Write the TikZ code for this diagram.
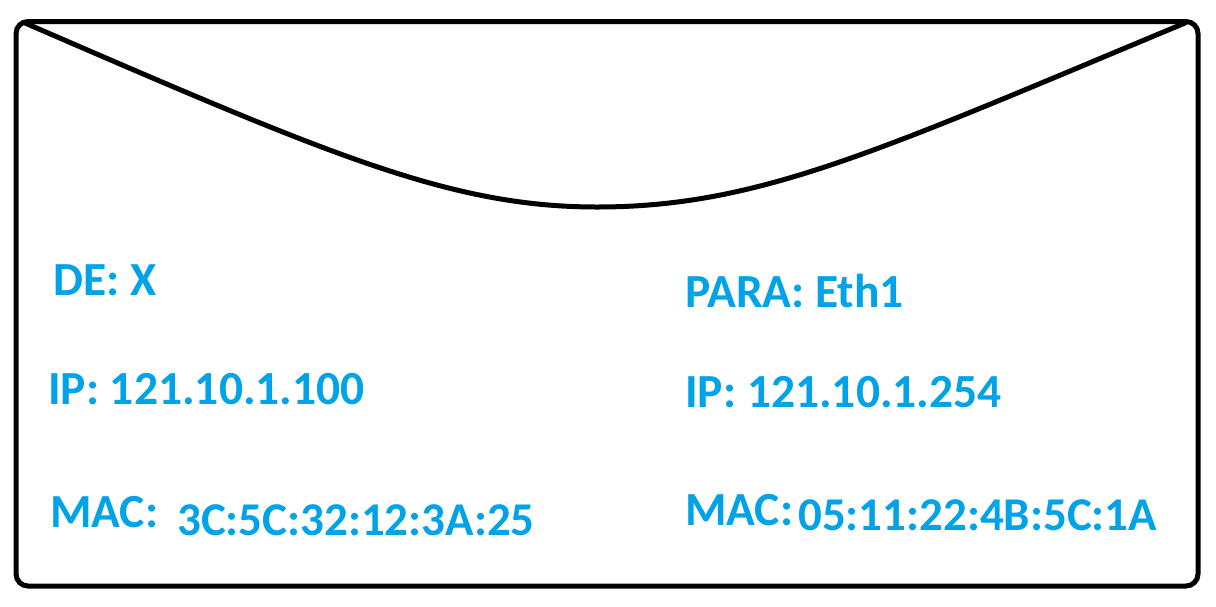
\documentclass[tikz,border=0pt]{standalone}
\usepackage{fontspec}
\setmainfont{Carlito}
\usepackage{tikz}
\definecolor{paintblue}{RGB}{0,162,232}

\tikzset{
	addr/.style={anchor=base west,inner sep=0pt,text=paintblue,
		font=\bfseries\fontsize{47.5}{52}\selectfont},
	addrval/.style={addr,font=\bfseries\fontsize{47}{54}\selectfont},
}

\begin{document}
\begin{tikzpicture}[x=1pt,y=-1pt]
		\useasboundingbox (0,0) rectangle (1216,606);
		% envelope body and flap
		\draw[line width=5pt,rounded corners=12pt] (16,21.5) rectangle (1198,586);
		\draw[line width=5pt,line cap=round] (25,23)
			.. controls (330,155) and (450,207) .. (597,207)
			.. controls (760,207) and (880,150) .. (1185,23);
		% sender side
		\node(de)[addr] at (53,295) {DE: X};
		\node(ipsrc)[addr] at (48,404) {IP: 121.10.1.100};
		\node(macsrc)[addr] at (50,527) {MAC:};
		\node(macsrcval)[addrval] at (177,535) {3C:5C:32:12:3A:25};
		% gateway side
		\node(para)[addr] at (685,307) {PARA: Eth1};
		\node(ipgw)[addr] at (685,407) {IP: 121.10.1.254};
		\node(macgw)[addr] at (685,525) {MAC:};
		\node(macgwval)[addrval] at (798,530) {05:11:22:4B:5C:1A};
		\end{tikzpicture}
\end{document}
